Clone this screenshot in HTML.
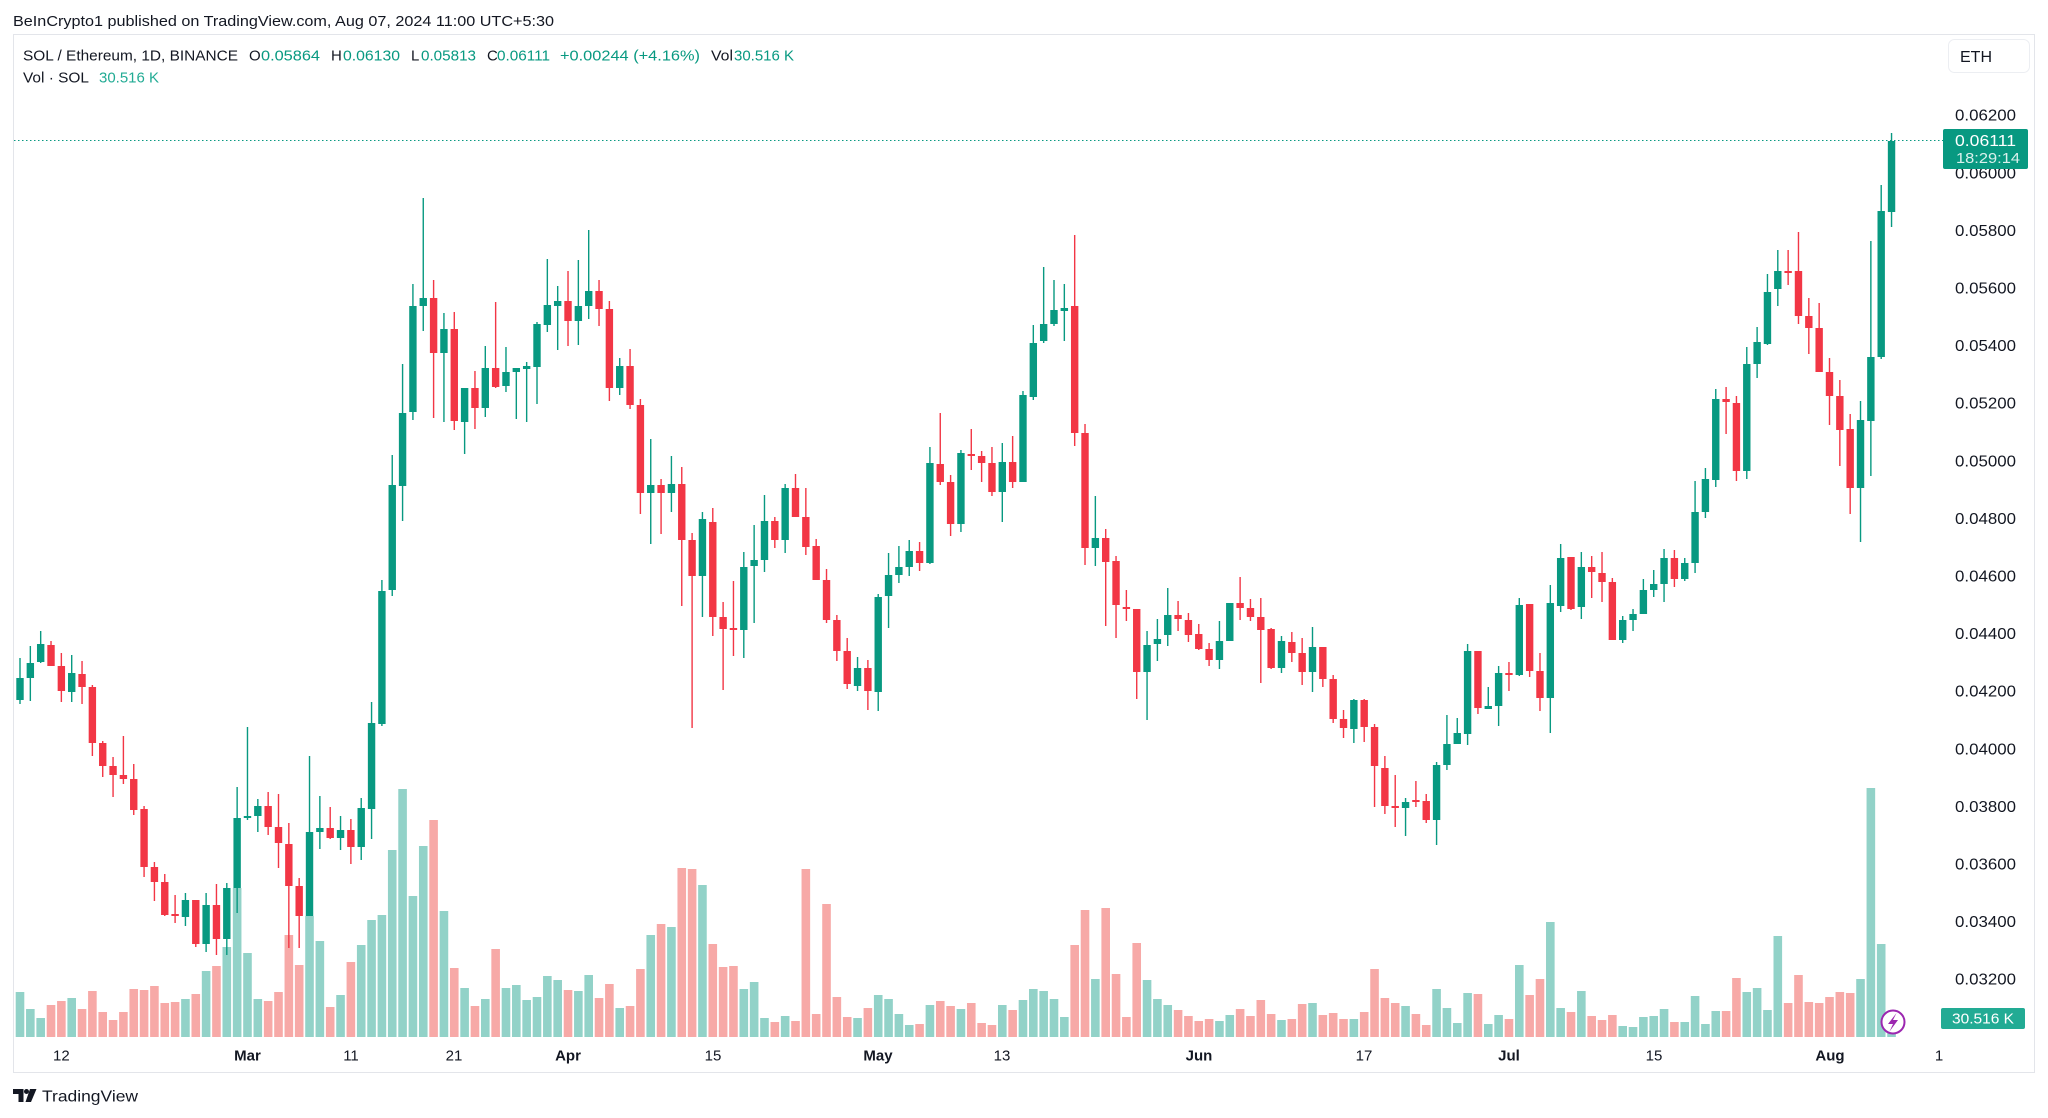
<!DOCTYPE html>
<html>
<head>
<meta charset="utf-8">
<style>
html,body{margin:0;padding:0;background:#fff;}
body{width:2048px;height:1118px;overflow:hidden;position:relative;}
svg{position:absolute;left:0;top:0;font-family:"Liberation Sans",Arial,sans-serif;}
</style>
</head>
<body>
<svg width="2048" height="1118" viewBox="0 0 2048 1118" xmlns="http://www.w3.org/2000/svg">
<rect x="0" y="0" width="2048" height="1118" fill="#ffffff"/>
<!-- header -->
<text x="13" y="26" font-size="15" fill="#131722" textLength="541" lengthAdjust="spacingAndGlyphs">BeInCrypto1 published on TradingView.com, Aug 07, 2024 11:00 UTC+5:30</text>
<!-- panel -->
<rect x="13.5" y="34.5" width="2021" height="1038" fill="none" stroke="#e3e5ea" stroke-width="1"/>

<!-- legend -->
<g font-size="15">
<text x="23" y="60.5" fill="#131722" textLength="215" lengthAdjust="spacingAndGlyphs">SOL / Ethereum, 1D, BINANCE</text>
<text x="249" y="60.5" fill="#131722">O</text>
<text x="261" y="60.5" fill="#089981" textLength="59" lengthAdjust="spacingAndGlyphs">0.05864</text>
<text x="331" y="60.5" fill="#131722">H</text>
<text x="343" y="60.5" fill="#089981" textLength="57" lengthAdjust="spacingAndGlyphs">0.06130</text>
<text x="411" y="60.5" fill="#131722">L</text>
<text x="421" y="60.5" fill="#089981" textLength="55" lengthAdjust="spacingAndGlyphs">0.05813</text>
<text x="487" y="60.5" fill="#131722">C</text>
<text x="497" y="60.5" fill="#089981" textLength="53" lengthAdjust="spacingAndGlyphs">0.06111</text>
<text x="560" y="60.5" fill="#089981" textLength="140" lengthAdjust="spacingAndGlyphs">+0.00244 (+4.16%)</text>
<text x="711" y="60.5" fill="#131722" textLength="22" lengthAdjust="spacingAndGlyphs">Vol</text>
<text x="734" y="60.5" fill="#089981" textLength="60" lengthAdjust="spacingAndGlyphs">30.516 K</text>
<text x="23" y="82.5" fill="#131722" textLength="66" lengthAdjust="spacingAndGlyphs">Vol · SOL</text>
<text x="99" y="82.5" fill="#22ab94" textLength="60" lengthAdjust="spacingAndGlyphs">30.516 K</text>
</g>

<!-- ETH box -->
<rect x="1948.5" y="39.5" width="81" height="33" rx="6" fill="#fff" stroke="#eceef2"/>
<text x="1960" y="62" font-size="16" fill="#131722">ETH</text>

<!-- price axis labels -->
<g font-size="16" fill="#131722">
<text x="1955" y="120.7" textLength="61" lengthAdjust="spacingAndGlyphs">0.06200</text>
<text x="1955" y="178.3" textLength="61" lengthAdjust="spacingAndGlyphs">0.06000</text>
<text x="1955" y="235.9" textLength="61" lengthAdjust="spacingAndGlyphs">0.05800</text>
<text x="1955" y="293.5" textLength="61" lengthAdjust="spacingAndGlyphs">0.05600</text>
<text x="1955" y="351.1" textLength="61" lengthAdjust="spacingAndGlyphs">0.05400</text>
<text x="1955" y="408.7" textLength="61" lengthAdjust="spacingAndGlyphs">0.05200</text>
<text x="1955" y="466.3" textLength="61" lengthAdjust="spacingAndGlyphs">0.05000</text>
<text x="1955" y="523.9" textLength="61" lengthAdjust="spacingAndGlyphs">0.04800</text>
<text x="1955" y="581.5" textLength="61" lengthAdjust="spacingAndGlyphs">0.04600</text>
<text x="1955" y="639.1" textLength="61" lengthAdjust="spacingAndGlyphs">0.04400</text>
<text x="1955" y="696.7" textLength="61" lengthAdjust="spacingAndGlyphs">0.04200</text>
<text x="1955" y="754.3" textLength="61" lengthAdjust="spacingAndGlyphs">0.04000</text>
<text x="1955" y="811.9" textLength="61" lengthAdjust="spacingAndGlyphs">0.03800</text>
<text x="1955" y="869.5" textLength="61" lengthAdjust="spacingAndGlyphs">0.03600</text>
<text x="1955" y="927.1" textLength="61" lengthAdjust="spacingAndGlyphs">0.03400</text>
<text x="1955" y="984.7" textLength="61" lengthAdjust="spacingAndGlyphs">0.03200</text>
</g>

<!-- dotted last price line -->
<line x1="14" y1="140.5" x2="1943" y2="140.5" stroke="#089981" stroke-width="1" stroke-dasharray="1.5 2.5"/>

<!-- candles + volume -->
<g transform="matrix(10.34 0 0 1 9.66 0)" fill="none" stroke-linecap="butt">
<path vector-effect="non-scaling-stroke" stroke="#92d2c8" stroke-width="8.6" d="M1 992V1037M2 1009V1037M3 1018V1037M6 998V1037M17 999V1037M19 971V1037M21 947V1037M22 888V1037M23 953V1037M24 999V1037M29 916V1037M30 941V1037M32 995V1037M34 945V1037M35 920V1037M36 915V1037M37 850V1037M38 789V1037M39 896V1037M40 846V1037M42 911V1037M44 988V1037M46 999V1037M48 988V1037M49 985V1037M50 1000V1037M51 997V1037M52 976V1037M53 980V1037M55 991V1037M56 975V1037M59 1008V1037M62 935V1037M64 927V1037M67 885V1037M71 989V1037M72 982V1037M73 1018V1037M75 1016V1037M82 1018V1037M84 995V1037M85 999V1037M86 1014V1037M87 1025V1037M89 1005V1037M92 1009V1037M96 1005V1037M98 1000V1037M99 989V1037M100 991V1037M101 999V1037M102 1017V1037M105 979V1037M110 980V1037M111 999V1037M112 1005V1037M117 1021V1037M118 1015V1037M123 1020V1037M126 1003V1037M130 1019V1037M135 1006V1037M138 989V1037M139 1008V1037M140 1023V1037M141 993V1037M143 1024V1037M144 1015V1037M146 965V1037M149 922V1037M150 1008V1037M152 991V1037M156 1026V1037M157 1027V1037M158 1017V1037M159 1016V1037M160 1009V1037M162 1022V1037M163 996V1037M164 1024V1037M165 1011V1037M168 992V1037M169 988V1037M170 1010V1037M171 936V1037M179 979V1037M180 788V1037M181 944V1037M182 1025V1037"/>
<path vector-effect="non-scaling-stroke" stroke="#f7a9a7" stroke-width="8.6" d="M4 1005V1037M5 1001V1037M7 1009V1037M8 991V1037M9 1012V1037M10 1020V1037M11 1012V1037M12 989V1037M13 990V1037M14 986V1037M15 1003V1037M16 1002V1037M18 994V1037M20 966V1037M25 1001V1037M26 992V1037M27 935V1037M28 965V1037M31 1007V1037M33 962V1037M41 820V1037M43 968V1037M45 1006V1037M47 949V1037M54 990V1037M57 998V1037M58 984V1037M60 1006V1037M61 969V1037M63 924V1037M65 868V1037M66 869V1037M68 944V1037M69 967V1037M70 966V1037M74 1022V1037M76 1021V1037M77 869V1037M78 1014V1037M79 904V1037M80 997V1037M81 1017V1037M83 1008V1037M88 1024V1037M90 1001V1037M91 1006V1037M93 1003V1037M94 1023V1037M95 1025V1037M97 1010V1037M103 945V1037M104 910V1037M106 908V1037M107 974V1037M108 1017V1037M109 943V1037M113 1010V1037M114 1016V1037M115 1021V1037M116 1019V1037M119 1009V1037M120 1016V1037M121 1000V1037M122 1014V1037M124 1019V1037M125 1004V1037M127 1015V1037M128 1013V1037M129 1019V1037M131 1012V1037M132 969V1037M133 998V1037M134 1003V1037M136 1014V1037M137 1025V1037M142 994V1037M145 1019V1037M147 995V1037M148 979V1037M151 1012V1037M153 1016V1037M154 1020V1037M155 1015V1037M161 1022V1037M166 1011V1037M167 978V1037M172 1003V1037M173 975V1037M174 1002V1037M175 1003V1037M176 997V1037M177 992V1037M178 993V1037"/>
<path vector-effect="non-scaling-stroke" stroke="#089981" stroke-width="1.4" d="M1 658V704M2 646V701M3 631V663M6 655V702M17 893V926M19 893V952M21 883V955M22 787V913M23 727V820M24 799V832M29 756V916M30 796V849M32 816V850M34 798V860M35 702V839M36 580V726M37 455V596M38 364V521M39 284V420M40 198V331M42 313V422M44 388V454M46 346V417M48 347V392M49 368V419M50 362V422M51 322V404M52 259V332M53 286V350M55 260V345M56 230V319M59 358V395M62 439V544M64 456V512M67 512V617M71 552V658M72 525V623M73 495V572M75 484V553M82 657V691M84 594V711M85 553V628M86 546V583M87 540V576M89 447V564M92 450V532M96 443V522M98 391V482M99 325V400M100 267V343M101 280V326M102 284V341M105 496V566M110 631V720M111 619V661M112 588V646M117 621V669M118 603V641M123 636V673M126 627V692M130 699V743M135 798V836M138 762V845M139 715V770M140 718V744M141 644V745M143 687V709M144 666V726M146 598V676M149 585V733M150 544V612M152 552V619M156 616V643M157 609V631M158 579V614M159 570V597M160 549V602M162 558V581M163 481V573M164 468V518M165 389V487M168 347V479M169 327V378M170 274V345M171 250V306M179 401V542M180 241V476M181 185V359M182 133V227"/>
<path vector-effect="non-scaling-stroke" stroke="#089981" stroke-width="7.4" d="M1 678V700M2 663V678M3 644V662M6 673V692M17 900V917M19 905V944M21 888V939M22 818V888M23 816V818M24 806V816M29 832V916M30 828V832M32 830V838M34 808V847M35 723V809M36 591V724M37 485V590M38 413V486M39 306V412M40 298V306M42 329V353M44 388V422M46 368V408M48 372V386M49 368V372M50 366V369M51 324V367M52 305V325M53 301V306M55 306V321M56 291V306M59 366V388M62 485V493M64 484V493M67 519V576M71 567V630M72 560V566M73 521V560M75 488V540M82 668V686M84 597V692M85 575V596M86 567V575M87 551V567M89 463V563M92 453V524M96 462V492M98 395V482M99 343V397M100 324V341M101 310V324M102 308V311M105 538V548M110 645V672M111 639V644M112 615V635M117 641V660M118 603V641M123 641V668M126 647V672M130 700V729M135 802V808M138 765V820M139 744V765M140 733V744M141 651V734M143 706V709M144 673V706M146 605V675M149 603V698M150 558V606M152 567V607M156 620V640M157 614V620M158 590V614M159 584V590M160 558V584M162 563V579M163 512V563M164 479V512M165 399V480M168 364V471M169 342V364M170 292V344M171 271V289M179 420V488M180 357V421M181 211V357M182 141V212"/>
<path vector-effect="non-scaling-stroke" stroke="#f23645" stroke-width="1.4" d="M4 641V666M5 653V702M7 661V704M8 685V756M9 741V777M10 757V797M11 736V784M12 764V815M13 806V877M14 862V901M15 874V916M16 895V923M18 900V947M20 884V955M25 792V835M26 794V868M27 823V948M28 878V948M31 807V839M33 819V864M41 280V418M43 312V430M45 371V429M47 302V388M54 271V346M57 280V326M58 301V401M60 349V409M61 399V514M63 479V534M65 467V606M66 533V728M68 508V636M69 602V690M70 581V656M74 517V548M76 474V517M77 488V555M78 539V580M79 569V623M80 615V661M81 638V689M83 660V710M88 542V571M90 413V485M91 475V536M93 429V470M94 451V482M95 447V496M97 436V488M103 235V446M104 424V565M106 529V626M107 556V638M108 590V621M109 609V699M113 601V631M114 613V642M115 624V650M116 643V666M119 577V620M120 599V621M121 598V683M122 628V669M124 632V662M125 638V685M127 647V687M128 675V723M129 710V738M131 699V742M132 724V807M133 756V814M134 775V827M136 781V807M137 794V823M142 651V714M145 662V691M147 604V677M148 653V711M151 557V610M153 556V598M154 552V602M155 578V640M161 550V587M166 387V434M167 396V481M172 250V285M173 232V324M174 298V354M175 303V372M176 358V425M177 380V466M178 414V514"/>
<path vector-effect="non-scaling-stroke" stroke="#f23645" stroke-width="7.4" d="M4 645V666M5 666V691M7 674V687M8 687V743M9 743V766M10 766V775M11 775V779M12 779V810M13 809V867M14 867V882M15 882V915M16 914V916M18 900V944M20 905V939M25 806V827M26 827V843M27 844V886M28 886V916M31 828V838M33 830V847M41 298V353M43 329V421M45 388V408M47 368V387M54 301V321M57 291V309M58 309V388M60 366V405M61 405V493M63 485V493M65 484V540M66 540V576M68 522V617M69 617V629M70 628V630M74 521V540M76 488V517M77 517V547M78 546V580M79 580V620M80 620V651M81 651V684M83 668V691M88 551V563M90 464V482M91 482V524M93 454V456M94 456V463M95 463V492M97 462V482M103 306V433M104 433V548M106 538V562M107 561V605M108 607V609M109 609V672M113 615V619M114 620V635M115 634V649M116 649V660M119 603V608M120 608V617M121 617V630M122 629V668M124 642V653M125 653V672M127 647V679M128 679V719M129 719V728M131 700V727M132 727V766M133 768V806M134 806V808M136 800V802M137 801V820M142 651V708M145 673V675M147 604V671M148 671V698M151 557V609M153 567V572M154 573V582M155 582V640M161 558V579M166 399V402M167 403V471M172 271V273M173 271V316M174 316V328M175 328V372M176 372V396M177 396V430M178 429V488"/>
</g>

<!-- last price tag -->
<rect x="1943" y="129" width="85" height="40" rx="2" fill="#089981"/>
<text x="1955" y="146" font-size="16" fill="#ffffff" textLength="61" lengthAdjust="spacingAndGlyphs">0.06111</text>
<text x="1956" y="163" font-size="15" fill="#ffffff" fill-opacity="0.85" textLength="64" lengthAdjust="spacingAndGlyphs">18:29:14</text>

<!-- volume tag -->
<rect x="1941" y="1008" width="84" height="21" rx="2" fill="#22ab94"/>
<text x="1983" y="1023.5" font-size="15" fill="#ffffff" text-anchor="middle" textLength="62" lengthAdjust="spacingAndGlyphs">30.516 K</text>

<!-- lightning icon -->
<circle cx="1893" cy="1022" r="11.5" fill="#ffffff" stroke="#9c27b0" stroke-width="2"/>
<path d="M1896.5 1013 L1888 1024 L1893 1024 L1889.5 1031.5 L1898 1020 L1893 1020 Z" fill="#9c27b0"/>

<!-- time axis -->
<g font-size="15" fill="#131722" text-anchor="middle">
<text x="61.4" y="1060.5">12</text>
<text x="247.5" y="1060.5" font-weight="bold">Mar</text>
<text x="351" y="1060.5">11</text>
<text x="454" y="1060.5">21</text>
<text x="568" y="1060.5" font-weight="bold">Apr</text>
<text x="713" y="1060.5">15</text>
<text x="878" y="1060.5" font-weight="bold">May</text>
<text x="1002" y="1060.5">13</text>
<text x="1199" y="1060.5" font-weight="bold">Jun</text>
<text x="1364" y="1060.5">17</text>
<text x="1509" y="1060.5" font-weight="bold">Jul</text>
<text x="1654" y="1060.5">15</text>
<text x="1830" y="1060.5" font-weight="bold">Aug</text>
<text x="1939" y="1060.5">1</text>
</g>

<!-- TradingView footer -->
<path d="M13 1089h10.5v13h-5v-8h-5.5z" fill="#131722"/>
<circle cx="26.5" cy="1091.5" r="2.5" fill="#131722"/>
<path d="M30 1089h6.5l-5.5 13h-5.5z" fill="#131722"/>
<text x="42" y="1101.5" font-size="16" fill="#131722" textLength="96" lengthAdjust="spacingAndGlyphs">TradingView</text>
</svg>
</body>
</html>
